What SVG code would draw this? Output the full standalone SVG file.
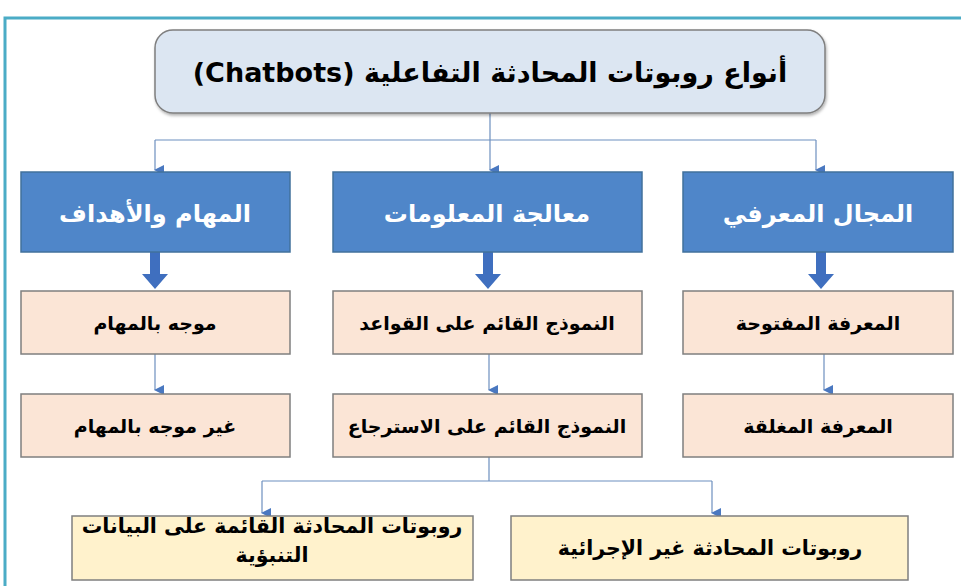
<svg xmlns="http://www.w3.org/2000/svg" width="961" height="586" viewBox="0 0 961 586">
<defs>
<marker id="ah" markerWidth="10" markerHeight="10" refX="5" refY="9" orient="auto" markerUnits="userSpaceOnUse" viewBox="0 0 10 10">
<path d="M0,0 L10,0 L5,10 Z" fill="#4a78c0"/>
</marker>
<filter id="sh" x="-5%" y="-5%" width="110%" height="120%"><feDropShadow dx="1" dy="2" stdDeviation="1.5" flood-color="#000" flood-opacity="0.3"/></filter>
</defs>
<style>
.ar{font-family:"DejaVu Sans","Noto Sans",sans-serif;font-weight:bold;text-anchor:middle;direction:rtl}
.top{fill:#dce6f2;stroke:#7f7f7f;stroke-width:1.5}
.blue{fill:#4f86c9;stroke:#41719c;stroke-width:1.5}
.pink{fill:#fbe5d6;stroke:#7f7f7f;stroke-width:1.5}
.yel{fill:#fff2cc;stroke:#7f7f7f;stroke-width:1.5}
.wt{fill:#ffffff;font-size:24px}
.bt{fill:#000000;font-size:19px}
.yt{fill:#000000;font-size:20.5px}
.ln{fill:none;stroke:#6d8fbf;stroke-width:1.2}
.thick{fill:#3f6fbf}
</style>
<rect width="961" height="586" fill="#ffffff"/>
<path d="M5,586 L5,18 L961,18" fill="none" stroke="#4bacc6" stroke-width="3"/>

<g id="connectors">
<path class="ln" d="M490,113 V140 M155,140 H816" />
<path class="ln" d="M155,140 V170" marker-end="url(#ah)"/>
<path class="ln" d="M490,140 V170" marker-end="url(#ah)"/>
<path class="ln" d="M816,140 V170" marker-end="url(#ah)"/>
<path class="thick" d="M150,252 h10 v22 h8 l-13,15 l-13,-15 h8 z"/>
<path class="thick" d="M483,252 h10 v22 h8 l-13,15 l-13,-15 h8 z"/>
<path class="thick" d="M816,252 h10 v22 h8 l-13,15 l-13,-15 h8 z"/>
<path class="ln" d="M155,354 V390" marker-end="url(#ah)"/>
<path class="ln" d="M489,354 V390" marker-end="url(#ah)"/>
<path class="ln" d="M824,354 V390" marker-end="url(#ah)"/>
<path class="ln" d="M489,457 V481 M262,481 H712"/>
<path class="ln" d="M262,481 V513" marker-end="url(#ah)"/>
<path class="ln" d="M712,481 V513" marker-end="url(#ah)"/>
</g>

<g id="root">
<rect class="top" x="155" y="30" width="670" height="83" rx="18" filter="url(#sh)"/>
<text class="ar" x="490" y="82" font-size="27" fill="#000">أنواع روبوتات المحادثة التفاعلية (Chatbots)</text>
</g>

<g id="n-tasks">
<rect class="blue" x="21" y="172" width="269" height="80"/>
<text class="ar wt" x="155" y="222">المهام والأهداف</text>
</g>
<g id="n-info">
<rect class="blue" x="333" y="172" width="309" height="80"/>
<text class="ar wt" x="487" y="222">معالجة المعلومات</text>
</g>
<g id="n-domain">
<rect class="blue" x="683" y="172" width="270" height="80"/>
<text class="ar wt" x="818" y="222">المجال المعرفي</text>
</g>

<g id="n-task-oriented">
<rect class="pink" x="21" y="291" width="269" height="63"/>
<text class="ar bt" x="155" y="330">موجه بالمهام</text>
</g>
<g id="n-non-task">
<rect class="pink" x="21" y="394" width="269" height="63"/>
<text class="ar bt" x="155" y="433">غير موجه بالمهام</text>
</g>
<g id="n-rules">
<rect class="pink" x="333" y="291" width="309" height="63"/>
<text class="ar bt" x="487" y="330">النموذج القائم على القواعد</text>
</g>
<g id="n-retrieval">
<rect class="pink" x="333" y="394" width="309" height="63"/>
<text class="ar bt" x="487" y="433">النموذج القائم على الاسترجاع</text>
</g>
<g id="n-open">
<rect class="pink" x="683" y="291" width="270" height="63"/>
<text class="ar bt" x="818" y="330">المعرفة المفتوحة</text>
</g>
<g id="n-closed">
<rect class="pink" x="683" y="394" width="270" height="63"/>
<text class="ar bt" x="818" y="433">المعرفة المغلقة</text>
</g>

<g id="n-generative">
<rect class="yel" x="72" y="516" width="401" height="64"/>
<text class="ar yt" x="272" y="533">روبوتات المحادثة القائمة على البيانات</text>
<text class="ar yt" x="272" y="562">التنبؤية</text>
</g>
<g id="n-nonprocedural">
<rect class="yel" x="511" y="516" width="397" height="64"/>
<text class="ar yt" x="710" y="555">روبوتات المحادثة غير الإجرائية</text>
</g>
</svg>
